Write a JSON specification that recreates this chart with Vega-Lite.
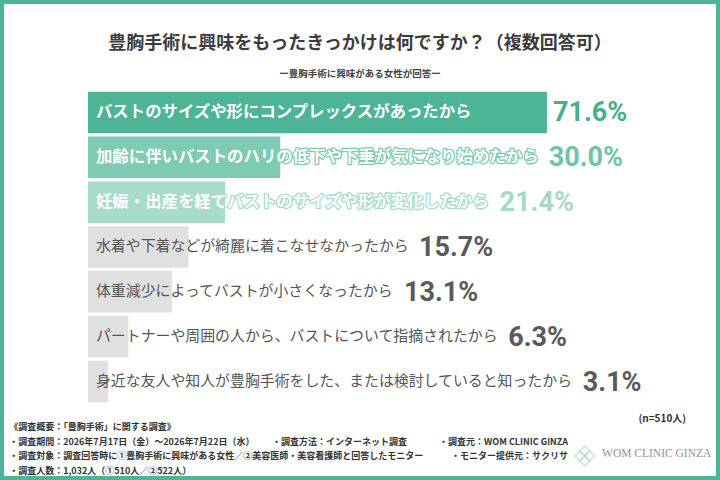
{
  "$schema": "https://vega.github.io/schema/vega-lite/v6.json",
  "width": 712,
  "height": 472,
  "padding": 4,
  "autosize": {"type": "none"},
  "background": "#4cb497",
  "config": {
    "view": {"fill": "white", "stroke": null},
    "font": "Noto Sans CJK JP"
  },
  "title": {
    "text": "豊胸手術に興味をもったきっかけは何ですか？（複数回答可）",
    "subtitle": "ー豊胸手術に興味がある女性が回答ー",
    "anchor": "middle",
    "offset": -74,
    "font": "Noto Sans CJK JP",
    "fontSize": 18,
    "fontWeight": "bold",
    "color": "#3c3c3c",
    "subtitleFont": "Noto Sans CJK JP",
    "subtitleFontSize": 9.5,
    "subtitleFontWeight": "bold",
    "subtitleColor": "#444444",
    "subtitlePadding": 16
  },
  "datasets": {
    "bars": [
      {"label": "バストのサイズや形にコンプレックスがあったから", "pct": 71.6},
      {"label": "加齢に伴いバストのハリの低下や下垂が気になり始めたから", "pct": 30.0},
      {"label": "妊娠・出産を経てバストのサイズや形が変化したから", "pct": 21.4},
      {"label": "水着や下着などが綺麗に着こなせなかったから", "pct": 15.7},
      {"label": "体重減少によってバストが小さくなったから", "pct": 13.1},
      {"label": "パートナーや周囲の人から、バストについて指摘されたから", "pct": 6.3},
      {"label": "身近な友人や知人が豊胸手術をした、または検討していると知ったから", "pct": 3.1}
    ],
    "notes": [
      {"line": 0, "col": "n", "text": "(n=510人)"},
      {"line": 1, "col": "a", "text": "《調査概要：「豊胸手術」に関する調査》"},
      {"line": 2, "col": "a", "text": "・調査期間：2026年7月17日（金）～2026年7月22日（水）"},
      {"line": 2, "col": "b", "text": "・調査方法：インターネット調査"},
      {"line": 2, "col": "c", "text": "・調査元：WOM CLINIC GINZA"},
      {"line": 3, "col": "a", "text": "・調査対象：調査回答時に①豊胸手術に興味がある女性／②美容医師・美容看護師と回答したモニター"},
      {"line": 3, "col": "c", "text": "・モニター提供元：サクリサ"},
      {"line": 3, "col": "logo", "text": "WOM CLINIC GINZA"},
      {"line": 3, "col": "icon", "text": ""},
      {"line": 4, "col": "a", "text": "・調査人数：1,032人（①510人／②522人）"}
    ]
  },
  "resolve": {"scale": {"y": "independent"}},
  "layer": [
    {
      "data": {"name": "bars"},
      "encoding": {
        "y": {
          "field": "label",
          "type": "nominal",
          "sort": null,
          "axis": null,
          "scale": {"range": [86, 400], "paddingInner": 0.075, "paddingOuter": 0.0375}
        }
      },
      "layer": [
        {
          "mark": {"type": "bar"},
          "encoding": {
            "x": {
              "field": "pct",
              "type": "quantitative",
              "axis": null,
              "scale": {"domain": [-13.1, 97.97], "nice": false, "zero": false}
            },
            "color": {
              "field": "label",
              "type": "nominal",
              "sort": null,
              "legend": null,
              "scale": {"range": ["#4db496", "#7ecab2", "#a8dbcb", "#e0e0e0", "#e0e0e0", "#e0e0e0", "#e0e0e0"]}
            }
          }
        },
        {
          "transform": [{"filter": "datum.pct > 20"}],
          "mark": {
            "type": "text",
            "align": "left",
            "baseline": "middle",
            "dx": 8,
            "fontSize": 16.4,
            "fontWeight": "bold",
            "fill": "white",
            "fillOpacity": 0,
            "strokeWidth": 2.6,
            "strokeJoin": "round"
          },
          "encoding": {
            "x": {"datum": 0, "type": "quantitative"},
            "text": {"field": "label"},
            "stroke": {
              "condition": [
                {"test": "datum.pct > 50", "value": "#4db496"},
                {"test": "datum.pct > 25", "value": "#7ecab2"}
              ],
              "value": "#a8dbcb"
            }
          }
        },
        {
          "transform": [{"filter": "datum.pct > 20"}],
          "mark": {
            "type": "text",
            "align": "left",
            "baseline": "middle",
            "dx": 8,
            "fontSize": 16.4,
            "fontWeight": "bold",
            "color": "white"
          },
          "encoding": {
            "x": {"datum": 0, "type": "quantitative"},
            "text": {"field": "label"}
          }
        },
        {
          "transform": [{"filter": "datum.pct <= 20"}],
          "mark": {
            "type": "text",
            "align": "left",
            "baseline": "middle",
            "dx": 8,
            "fontSize": 14.9,
            "color": "#555555"
          },
          "encoding": {
            "x": {"datum": 0, "type": "quantitative"},
            "text": {"field": "label"}
          }
        },
        {
          "transform": [
            {"calculate": "format(datum.pct, '.1f') + '%'", "as": "valueText"},
            {"calculate": "max(datum.pct + 0.94, (18 + length(datum.label) * (datum.pct > 20 ? 16.4 : 14.9)) / 6.41)", "as": "valuePos"}
          ],
          "mark": {
            "type": "text",
            "align": "left",
            "baseline": "middle",
            "dy": 1,
            "font": "Roboto",
            "fontSize": 27,
            "fontWeight": "bold"
          },
          "encoding": {
            "x": {"field": "valuePos", "type": "quantitative"},
            "text": {"field": "valueText"},
            "color": {
              "condition": [
                {"test": "datum.pct > 50", "value": "#4aae8e"},
                {"test": "datum.pct > 25", "value": "#6dc4a8"},
                {"test": "datum.pct > 20", "value": "#a5d9c7"}
              ],
              "value": "#5a5a5a"
            }
          }
        }
      ]
    },
    {
      "data": {"name": "notes"},
      "encoding": {
        "y": {
          "field": "line",
          "type": "ordinal",
          "axis": null,
          "scale": {"type": "point", "domain": [0, 1, 2, 3, 4], "range": [408.5, 466.5], "padding": 0}
        }
      },
      "layer": [
        {
          "transform": [{"filter": "datum.col == 'a'"}],
          "mark": {"type": "text", "align": "left", "baseline": "middle", "fontSize": 9, "fontWeight": "bold", "color": "#333333"},
          "encoding": {"x": {"datum": -12.3, "type": "quantitative"}, "text": {"field": "text"}}
        },
        {
          "transform": [{"filter": "datum.col == 'b'"}],
          "mark": {"type": "text", "align": "left", "baseline": "middle", "fontSize": 9, "fontWeight": "bold", "color": "#333333"},
          "encoding": {"x": {"datum": 28.7, "type": "quantitative"}, "text": {"field": "text"}}
        },
        {
          "transform": [{"filter": "datum.col == 'c'"}],
          "mark": {"type": "text", "align": "right", "baseline": "middle", "fontSize": 9, "fontWeight": "bold", "color": "#333333"},
          "encoding": {"x": {"datum": 74.9, "type": "quantitative"}, "text": {"field": "text"}}
        },
        {
          "transform": [{"filter": "datum.col == 'n'"}],
          "mark": {"type": "text", "align": "right", "baseline": "middle", "dy": 6, "fontSize": 10, "fontWeight": "bold", "color": "#333333"},
          "encoding": {"x": {"datum": 93.3, "type": "quantitative"}, "text": {"field": "text"}}
        },
        {
          "transform": [{"filter": "datum.col == 'logo'"}],
          "mark": {"type": "text", "align": "left", "baseline": "middle", "dy": -2, "font": "Liberation Serif", "fontSize": 11.5, "color": "#8a9792"},
          "encoding": {"x": {"datum": 80.2, "type": "quantitative"}, "text": {"field": "text"}}
        },
        {
          "transform": [{"filter": "datum.col == 'icon'"}],
          "mark": {
            "type": "point",
            "shape": "M0,-0.95L0.5,-0.45L0,0.05L-0.5,-0.45Z M0.95,0L0.45,0.5L-0.05,0L0.45,-0.5Z M0,0.95L-0.5,0.45L0,-0.05L0.5,0.45Z M-0.95,0L-0.45,-0.5L0.05,0L-0.45,0.5Z",
            "size": 441,
            "filled": false,
            "stroke": "#9fd8c5",
            "strokeWidth": 1,
            "opacity": 1
          },
          "encoding": {"x": {"datum": 77.5, "type": "quantitative"}}
        }
      ]
    }
  ]
}
